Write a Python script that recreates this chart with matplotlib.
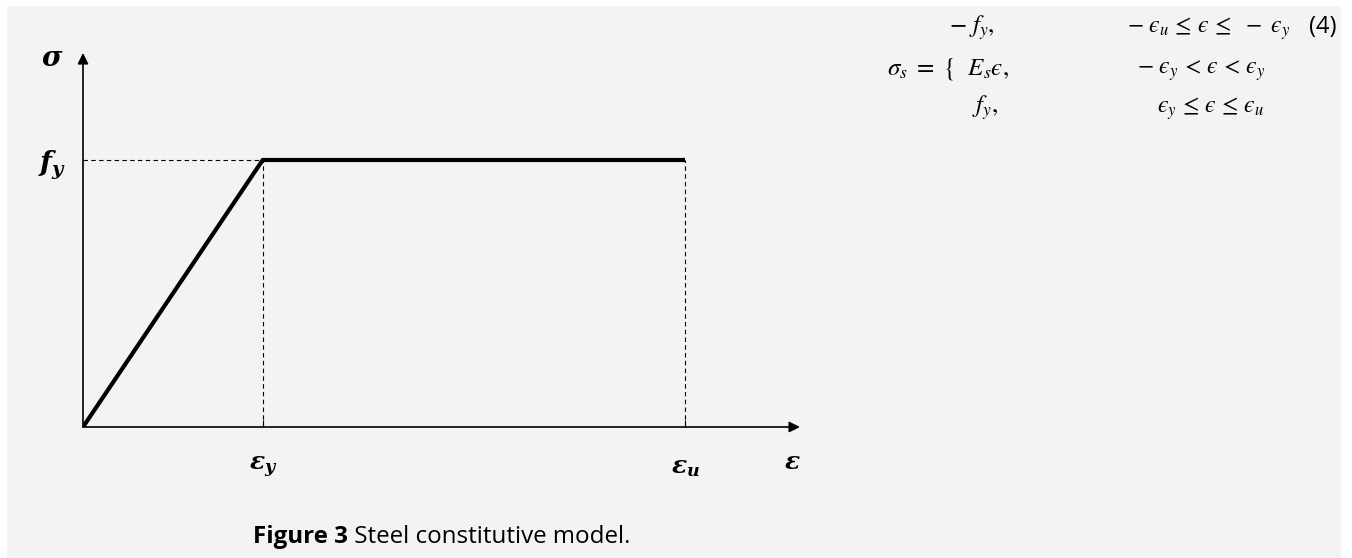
import matplotlib.pyplot as plt
from matplotlib.patches import Rectangle

# bilinear steel model (normalised values)
eps_y = 0.002
eps_u = 0.0067
f_y = 400.0
strain = [0.0, eps_y, eps_u]
stress = [0.0, f_y, f_y]
tick_labels = [r'$\varepsilon_y$', r'$\varepsilon_u$']

W, H = 1352, 558
BG = '#f3f3f3'

plt.rcParams['mathtext.fontset'] = 'custom'
plt.rcParams['mathtext.it'] = 'DejaVu Serif:bold:italic'
plt.rcParams['mathtext.rm'] = 'DejaVu Serif:bold'

fig = plt.figure(figsize=(W / 100, H / 100), dpi=100, facecolor='white')
fig.add_artist(Rectangle((7 / W, 0), (1341 - 7) / W, 1 - 6 / H,
                         transform=fig.transFigure, color=BG, zorder=-10, lw=0))


def fx(x):
    return x / W


def fy(y):
    return 1 - y / H


# origin at pixel (83, 427), x arrow tip 800, y arrow tip 53
ox, oy = 83, 427
ax = fig.add_axes([fx(ox), fy(oy), (800 - ox) / W, (oy - 53) / H])
ax.set_facecolor('none')
ax.set_xlim(0, eps_u * (800 - ox) / (685 - ox))
ax.set_ylim(0, f_y * (oy - 53) / (oy - 160))
for s in ax.spines.values():
    s.set_visible(False)

ax.plot(strain, stress, color='black', lw=3, solid_capstyle='butt', zorder=3)
ax.plot([0, eps_y], [f_y, f_y], color='black', lw=0.8, ls=(0, (4, 3)))
ax.plot([eps_y, eps_y], [0, f_y], color='black', lw=0.8, ls=(0, (4, 3)))
ax.plot([eps_u, eps_u], [0, f_y], color='black', lw=0.8, ls=(0, (4, 3)))

arrow = dict(arrowstyle='-|>', lw=1.2, color='black', mutation_scale=16,
             shrinkA=0, shrinkB=0)
ax.annotate('', xy=(1, 0), xytext=(0, 0), xycoords='axes fraction', arrowprops=arrow)
ax.annotate('', xy=(0, 1), xytext=(0, 0), xycoords='axes fraction', arrowprops=arrow)

ax.set_xticks([eps_y, eps_u], tick_labels, fontsize=18)
ax.tick_params(axis='x', direction='in', length=5, width=0.8, pad=20)
ax.set_yticks([f_y], [r'$f_y$'], fontsize=20)
ax.tick_params(axis='y', length=0, pad=12)

fig.text(fx(52), fy(58), r'$\sigma$', fontsize=20, ha='center', va='center')
fig.text(fx(792), fy(462), r'$\varepsilon$', fontsize=18, ha='center', va='center')

# constitutive equation
eq = dict(fontsize=18, math_fontfamily='stix', va='baseline')
eqr = dict(eq, fontsize=17)
rows = [33, 74, 113]
e = '\u03f5'
fig.text(fx(995), fy(rows[0]), '$-\\ f_y,$', ha='right', **eq)
fig.text(fx(887), fy(rows[1]), '$\\sigma_s\\ =\\ \\{\\ \\ E_s' + e + ',$', ha='left', **eq)
fig.text(fx(998), fy(rows[2]), '$f_y,$', ha='right', **eq)
fig.text(fx(1127), fy(rows[0]),
         '$-\\ ' + e + '_u\\,\\leq\\,' + e + '\\,\\leq\\ \\,-\\ ' + e + '_y$', ha='left', **eqr)
fig.text(fx(1137), fy(rows[1]),
         '$-\\ ' + e + '_y\\,<\\,' + e + '\\,<\\,' + e + '_y$', ha='left', **eqr)
fig.text(fx(1157), fy(rows[2]),
         '$' + e + '_y\\,\\leq\\,' + e + '\\,\\leq\\,' + e + '_u$', ha='left', **eqr)
fig.text(fx(1337), fy(rows[0]), '(4)', ha='right', va='baseline', fontsize=17,
         family='Open Sans')

cap = fig.text(fx(253), fy(537), 'Figure 3', fontsize=17.4, family='Open Sans',
               weight='bold', ha='left', va='center')
ax.annotate(' Steel constitutive model.', xy=(1, 0.5), xycoords=cap,
            va='center', ha='left', fontsize=17.4, family='Open Sans')

fig.savefig('out.png', dpi=100, facecolor=fig.get_facecolor())
